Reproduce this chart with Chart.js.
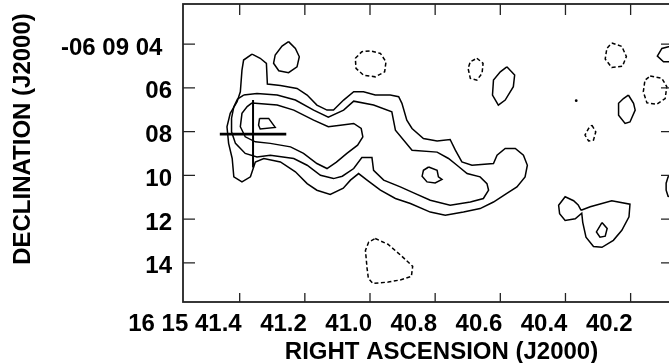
<!DOCTYPE html>
<html>
<head>
<meta charset="utf-8">
<script src="https://cdn.jsdelivr.net/npm/chart.js@4.4.1/dist/chart.umd.min.js"></script>
<style>
  html, body { margin: 0; padding: 0; background: #fff; overflow: hidden; }
  .wrap { position: relative; width: 680px; height: 363px; }
</style>
</head>
<body>
<div class="wrap"><canvas id="chart"></canvas></div>
<script>
// axis ticks (RA in seconds of 16h15m, Dec in arcsec of -06d09m)
const raTicks = [40.2, 40.4, 40.6, 40.8, 41.0, 41.2, 41.4];
const raTickLabels = ['40.2', '40.4', '40.6', '40.8', '41.0', '41.2', '16 15 41.4'];
const decTicks = [4, 6, 8, 10, 12, 14];
const decTickLabels = ['-06 09 04\u2009\u2009', '06', '08', '10', '12', '14'];

// contour levels, [ra, dec] pairs
const outerContour = [
  [41.362,4.46],[41.337,4.65],[41.318,4.88],[41.315,5.83],[41.275,5.90],[41.224,6.03],[41.193,6.33],
  [41.163,6.79],[41.132,7.02],[41.112,7.02],[41.081,6.56],[41.050,6.18],[41.020,6.18],[40.984,6.33],
  [40.938,6.33],[40.912,6.41],[40.902,6.71],[40.887,7.48],[40.871,7.86],[40.836,8.32],[40.794,8.43],
  [40.754,8.36],[40.738,8.85],[40.718,9.39],[40.687,9.54],[40.621,9.46],[40.610,9.08],[40.585,8.77],
  [40.554,8.77],[40.529,9.08],[40.517,9.54],[40.524,10.07],[40.549,10.53],[40.580,10.83],[40.621,11.22],
  [40.662,11.52],[40.713,11.68],[40.769,11.83],[40.815,11.68],[40.876,11.29],[40.922,11.06],[40.968,10.68],
  [41.009,10.22],[41.035,9.92],[41.060,10.22],[41.082,10.59],[41.122,10.87],[41.163,10.68],[41.193,10.38],
  [41.229,9.84],[41.275,9.39],[41.326,9.23],[41.352,9.39],[41.367,10.07],[41.393,10.30],[41.418,10.07],
  [41.423,9.23],[41.434,8.54],[41.439,7.78],[41.429,7.17],[41.408,6.64],[41.398,6.18],[41.393,5.19],
  [41.388,4.73]
];
const middleContour = [
  [41.388,6.33],[41.347,6.26],[41.285,6.33],[41.229,6.56],[41.173,7.02],[41.128,7.34],[41.081,7.02],
  [41.050,6.61],[40.989,6.79],[40.933,7.10],[40.925,7.71],[40.922,7.94],[40.871,8.85],[40.794,8.94],
  [40.759,9.23],[40.733,9.54],[40.702,9.92],[40.662,10.07],[40.641,10.38],[40.636,10.68],[40.652,11.06],
  [40.692,11.22],[40.754,11.37],[40.815,11.14],[40.866,10.80],[40.907,10.53],[40.958,10.22],[40.989,9.77],
  [40.994,9.19],[41.025,9.19],[41.050,9.69],[41.085,10.04],[41.112,10.15],[41.152,10.00],[41.193,9.54],
  [41.234,9.23],[41.306,9.08],[41.347,9.16],[41.383,9.00],[41.413,8.54],[41.425,8.01],[41.425,7.39],
  [41.418,6.87],[41.407,6.52]
];
const innerContour = [
  [41.362,6.69],[41.285,6.79],[41.234,7.02],[41.173,7.48],[41.128,7.78],[41.091,7.71],[41.050,7.63],
  [41.027,7.86],[41.022,8.24],[41.038,8.62],[41.071,9.00],[41.103,9.40],[41.132,9.69],[41.163,9.46],
  [41.204,9.00],[41.244,8.70],[41.306,8.54],[41.352,8.47],[41.383,8.24],[41.398,7.78],[41.393,7.17],
  [41.377,6.86]
];
const peakWest = [[41.339,7.40],[41.311,7.40],[41.291,7.81],[41.337,7.88],[41.342,7.71]];
const peakMid = [[40.820,9.62],[40.794,9.77],[40.790,10.07],[40.779,10.19],[40.800,10.35],[40.825,10.30],[40.840,10.04],[40.836,9.77]];
const knotNorth = [[41.250,3.89],[41.229,4.20],[41.217,4.58],[41.224,5.04],[41.250,5.31],[41.280,5.22],[41.296,4.88],[41.291,4.50],[41.270,4.09]];
const knotEast = [[40.580,5.04],[40.556,5.42],[40.560,5.95],[40.585,6.56],[40.606,6.79],[40.624,6.33],[40.621,5.65],[40.600,5.27]];
const knotFarEast = [[40.207,6.33],[40.191,6.71],[40.186,7.02],[40.202,7.56],[40.217,7.63],[40.237,7.25],[40.237,6.71],[40.222,6.49]];
const edgeNorth = [[40.05,4.14],[40.084,4.12],[40.104,4.20],[40.118,4.55],[40.099,4.81],[40.05,4.81]];
const edgeMid = [[40.05,10.00],[40.085,10.07],[40.091,10.36],[40.091,10.68],[40.085,10.96],[40.05,11.05]];
const southEast = [
  [40.352,11.60],[40.324,11.44],[40.258,11.16],[40.202,11.32],[40.205,11.90],[40.227,12.51],[40.253,12.97],
  [40.288,13.29],[40.314,13.25],[40.337,12.83],[40.347,12.15],[40.350,11.73],[40.370,11.99],[40.401,12.06],
  [40.418,11.75],[40.421,11.37],[40.401,10.98],[40.375,11.16],[40.361,11.35],[40.352,11.60]
];
const southEastPeak = [[40.288,12.16],[40.272,12.43],[40.278,12.78],[40.294,12.83],[40.305,12.59]];

// negative contours (dashed)
const negNorth = [[41.045,4.65],[41.025,4.35],[40.999,4.31],[40.968,4.43],[40.951,4.81],[40.955,5.27],[40.984,5.50],[41.020,5.42],[41.043,5.11]];
const negNorthEast = [[40.672,4.65],[40.653,4.88],[40.656,5.34],[40.672,5.65],[40.692,5.57],[40.699,5.11],[40.692,4.81]];
const negSouth = [[40.984,12.89],[40.945,13.15],[40.905,13.66],[40.869,14.16],[40.873,14.62],[40.907,14.78],[40.944,14.88],[40.991,14.94],[41.005,14.71],[41.009,14.25],[41.014,13.43],[41.004,13.05]];
const negTopRight = [[40.258,3.95],[40.227,4.11],[40.213,4.57],[40.225,5.01],[40.258,5.07],[40.278,4.69],[40.273,4.20]];
const negRight = [[40.140,5.46],[40.104,5.57],[40.089,5.95],[40.094,6.49],[40.120,6.75],[40.150,6.69],[40.161,6.18],[40.156,5.65]];
const negSmall = [[40.319,7.71],[40.307,8.01],[40.314,8.39],[40.329,8.43],[40.340,8.16],[40.329,7.86]];

const dotPoint = [[40.367,6.59]];
const crossH = [[41.461,8.12],[41.257,8.12]];
const crossV = [[41.359,6.56],[41.359,9.64]];

const FONT = '"Liberation Sans", Arial, Helvetica, sans-serif';

function toXY(points, closed) {
  const pts = points.map(p => ({x: p[0], y: p[1]}));
  if (closed) pts.push({x: points[0][0], y: points[0][1]});
  return pts;
}

function lineSet(points, opts) {
  opts = opts || {};
  return {
    data: toXY(points, opts.closed !== false),
    showLine: true,
    borderColor: '#000',
    borderWidth: opts.width || 1.5,
    borderDash: opts.dashed ? [4, 2.5] : [],
    pointRadius: 0,
    fill: false,
    tension: 0
  };
}

function tickLabel(values, labels, v) {
  const i = values.findIndex(t => Math.abs(t - v) < 1e-6);
  return i < 0 ? '' : labels[i];
}

// frame with inward ticks plus the two axis titles
const framePlugin = {
  id: 'frame',
  afterDraw(chart) {
    const ctx = chart.ctx;
    const a = chart.chartArea;
    const xs = chart.scales.x, ys = chart.scales.y;
    ctx.save();
    ctx.strokeStyle = '#222';
    ctx.lineWidth = 1.8;
    ctx.strokeRect(a.left, a.top, a.right - a.left, a.bottom - a.top);
    ctx.lineWidth = 1.3;
    ctx.beginPath();
    xs.ticks.forEach(t => {
      const px = xs.getPixelForValue(t.value);
      ctx.moveTo(px, a.bottom); ctx.lineTo(px, a.bottom - 9);
      ctx.moveTo(px, a.top); ctx.lineTo(px, a.top + 11);
    });
    ys.ticks.forEach(t => {
      const py = ys.getPixelForValue(t.value);
      ctx.moveTo(a.left, py); ctx.lineTo(a.left + 12, py);
      ctx.moveTo(a.right, py); ctx.lineTo(a.right - 11, py);
    });
    ctx.stroke();

    ctx.fillStyle = '#000';
    ctx.font = 'bold 24px ' + FONT;
    ctx.textAlign = 'center';
    ctx.textBaseline = 'alphabetic';
    ctx.fillText('RIGHT ASCENSION (J2000)', (a.left + a.right) / 2 + 14, 359);

    ctx.translate(23, (a.top + a.bottom) / 2 - 14);
    ctx.rotate(-Math.PI / 2);
    ctx.textBaseline = 'middle';
    ctx.fillText('DECLINATION (J2000)', 0, 0);
    ctx.restore();
  }
};

function drawChart() {
  const datasets = [
    lineSet(outerContour), lineSet(middleContour), lineSet(innerContour),
    lineSet(peakWest), lineSet(peakMid), lineSet(knotNorth), lineSet(knotEast),
    lineSet(knotFarEast), lineSet(edgeNorth, {closed: false}), lineSet(edgeMid, {closed: false}),
    lineSet(southEast, {closed: false}), lineSet(southEastPeak),
    lineSet(negNorth, {dashed: true}), lineSet(negNorthEast, {dashed: true}),
    lineSet(negSouth, {dashed: true}), lineSet(negTopRight, {dashed: true}),
    lineSet(negRight, {dashed: true}), lineSet(negSmall, {dashed: true}),
    lineSet(crossH, {closed: false, width: 2.8}), lineSet(crossV, {closed: false, width: 2}),
    {data: toXY(dotPoint, false), pointRadius: 1.4, pointBorderWidth: 0, backgroundColor: '#000', showLine: false}
  ];

  new Chart(document.getElementById('chart'), {
    type: 'scatter',
    data: {datasets: datasets},
    options: {
      responsive: true,
      maintainAspectRatio: false,
      animation: false,
      layout: {padding: {top: 4, right: 8, bottom: 0, left: 0}},
      plugins: {legend: {display: false}, tooltip: {enabled: false}},
      scales: {
        x: {
          type: 'linear',
          min: 40.073,
          max: 41.574,
          reverse: true,
          grid: {display: false, drawTicks: false},
          border: {display: false},
          afterBuildTicks: s => { s.ticks = raTicks.map(v => ({value: v})); },
          afterFit: s => { s.height = 61; s.paddingLeft = 0; s.paddingRight = 0; },
          ticks: {
            align: 'end',
            labelOffset: 2,
            padding: 8,
            maxRotation: 0,
            autoSkip: false,
            color: '#000',
            font: {family: FONT, size: 24, weight: 'bold'},
            callback: v => tickLabel(raTicks, raTickLabels, v)
          }
        },
        y: {
          type: 'linear',
          min: 2.17,
          max: 15.79,
          reverse: true,
          grid: {display: false, drawTicks: false},
          border: {display: false},
          afterBuildTicks: s => { s.ticks = decTicks.map(v => ({value: v})); },
          afterFit: s => { s.width = 183; s.paddingTop = 0; s.paddingBottom = 0; },
          ticks: {
            padding: 11,
            labelOffset: 4,
            autoSkip: false,
            color: '#000',
            font: {family: FONT, size: 24, weight: 'bold'},
            callback: v => tickLabel(decTicks, decTickLabels, v)
          }
        }
      }
    },
    plugins: [framePlugin]
  });
}

drawChart();
</script>
</body>
</html>
